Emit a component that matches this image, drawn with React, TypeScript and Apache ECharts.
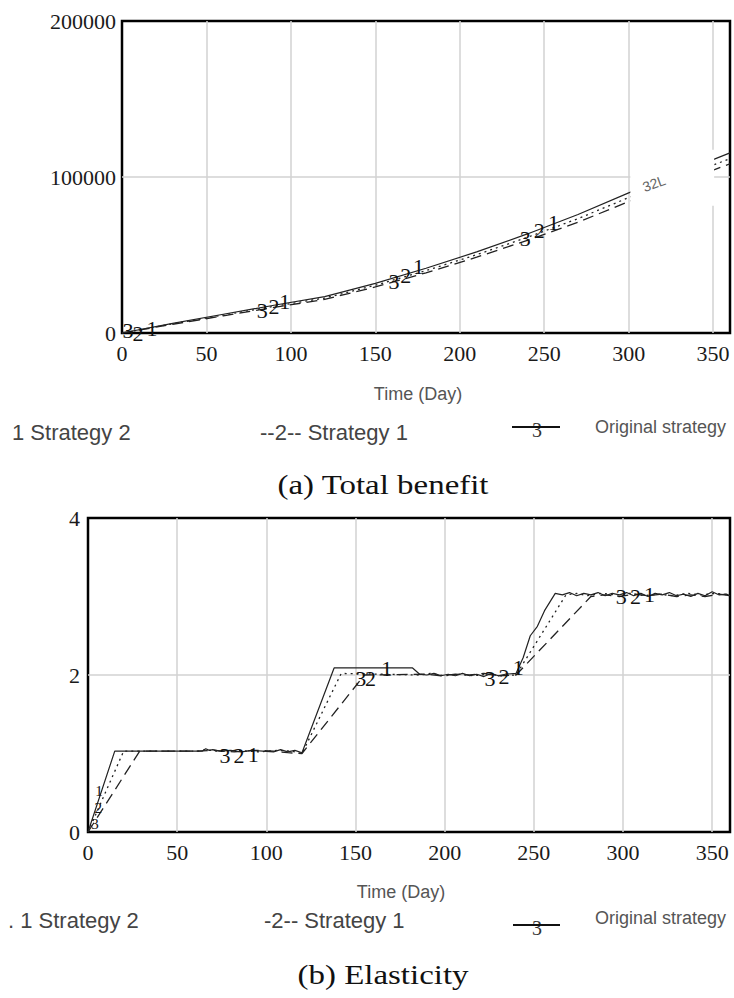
import React, { useEffect, useRef } from "react";
import * as echarts from "echarts";

// ---------- Data: (a) Total benefit ----------
const benefitDays = [0, 30, 60, 90, 120, 150, 180, 210, 240, 270, 300, 330, 360];
const benefitOriginal = [0, 6200, 12000, 17800, 23300, 31800, 41500, 52000, 63500, 76000, 89800, 102500, 115500];
const benefitStrategy2 = [0, 5900, 11500, 17100, 22400, 30600, 40000, 50200, 61300, 73300, 86800, 99200, 111800];
const benefitStrategy1 = [0, 5600, 11000, 16400, 21500, 29500, 38600, 48600, 59400, 71000, 84200, 96200, 108500];

// line number tags placed along the curves (day, value, tag)
const benefitTags: [number, number, string][] = [
  [3.6, 1900, "3"], [9.5, 0, "2"], [17.8, 3200, "1"],
  [83, 14700, "3"], [90, 17300, "2"], [96.4, 20000, "1"],
  [161, 32800, "3"], [168, 37100, "2"], [175.5, 42400, "1"],
  [238.8, 60600, "3"], [247, 65900, "2"], [255.5, 70600, "1"],
];
const benefitFadedTag: [number, number, string][] = [[315, 95800, "32L"]];
const benefitGap = { fromDay: 301, toDay: 350.6, fromValue: 81500, toValue: 117500 };

// ---------- Data: (b) Elasticity ----------
const elasticityOriginal: [number, number][] = [
  [0, 0], [15, 1.03], [64, 1.03], [66, 1.06], [68, 1.04], [70, 1.05], [74, 1.03], [80, 1.04], [86, 1.02],
  [92, 1.04], [98, 1.03], [104, 1.02], [108, 1.05], [112, 1.02], [116, 1.04], [120, 1.01],
  [138, 2.09], [182, 2.09], [186, 2.01], [190, 2.0], [194, 2.02], [198, 1.99], [202, 2.01], [206, 1.99],
  [210, 2.02], [214, 1.99], [218, 2.01], [222, 1.98], [226, 2.02], [230, 1.99], [234, 2.01], [240, 2.02],
  [244, 2.22], [248, 2.5], [252, 2.62], [256, 2.82], [262, 3.04], [266, 3.02], [270, 3.05], [274, 3.01],
  [278, 3.04], [282, 3.02], [286, 3.05], [290, 3.01], [294, 3.04], [298, 3.02], [302, 3.05], [306, 3.01],
  [310, 3.04], [314, 3.0], [318, 3.04], [322, 3.02], [326, 3.05], [330, 3.01], [334, 3.03], [338, 3.0],
  [342, 3.04], [346, 3.01], [350, 3.06], [354, 3.02], [358, 3.03], [360, 3.01],
];
const elasticityStrategy2: [number, number][] = [
  [0, 0], [20, 1.03], [62, 1.03], [66, 1.05], [72, 1.03], [84, 1.04], [96, 1.02], [106, 1.04], [114, 1.03],
  [120, 1.0], [142, 2.02], [186, 2.0], [192, 2.02], [200, 1.99], [208, 2.01], [216, 1.99], [224, 2.01],
  [232, 1.99], [240, 2.0], [268, 3.02], [274, 3.04], [280, 3.01], [288, 3.04], [296, 3.02], [304, 3.04],
  [312, 3.01], [320, 3.03], [328, 3.01], [336, 3.04], [344, 3.02], [352, 3.04], [360, 3.02],
];
const elasticityStrategy1: [number, number][] = [
  [0, 0], [29, 1.03], [60, 1.03], [70, 1.04], [82, 1.02], [94, 1.04], [104, 1.03], [112, 1.01], [120, 1.0],
  [155, 2.0], [190, 2.01], [198, 1.99], [206, 2.01], [214, 2.0], [222, 2.02], [230, 1.99], [240, 2.0],
  [282, 3.0], [290, 3.02], [298, 3.0], [306, 3.03], [314, 3.01], [322, 3.03], [330, 3.0], [338, 3.02],
  [346, 3.0], [354, 3.03], [360, 3.01],
];
const elasticityStartTags: [number, number, string][] = [
  [3.9, 0.1, "3"], [5.8, 0.3, "2"], [6.2, 0.52, "1"],
];
const elasticityTags: [number, number, string][] = [
  [76.8, 0.98, "3"], [84.7, 0.98, "2"], [92.6, 0.99, "1"],
  [153, 1.96, "3"], [158.4, 1.96, "2"], [167.5, 2.08, "1"],
  [225.4, 1.96, "3"], [233.3, 1.98, "2"], [241.2, 2.1, "1"],
  [299, 3.0, "3"], [307, 3.0, "2"], [314.8, 3.02, "1"],
];

const dayTicks = { min: 0, max: 360, interval: 50 };
const seriesNames = ["Strategy 2", "Strategy 1", "Original strategy"];

const SERIF = "Liberation Serif";
const SANS = "Liberation Sans";

function App() {
  const ref = useRef<HTMLDivElement>(null);

  useEffect(() => {
    if (!ref.current) return;
    const chart = echarts.init(ref.current, null, { renderer: "svg" });

    const splitLine = { show: true, showMinLine: false, showMaxLine: false, lineStyle: { color: "#d2d2d2", width: 1.5 } };

    const xAxisBase = (gridIndex: number) => ({
      gridIndex,
      type: "value",
      min: dayTicks.min,
      max: dayTicks.max,
      interval: dayTicks.interval,
      axisLine: { show: false },
      axisTick: { show: false },
      axisLabel: { fontFamily: SERIF, fontSize: 22, color: "#1a1a1a", margin: 9, showMaxLabel: false },
      splitLine,
    });
    const yAxisBase = (gridIndex: number, max: number, interval: number, margin: number) => ({
      gridIndex,
      type: "value",
      min: 0,
      max,
      interval,
      axisLine: { show: false },
      axisTick: { show: false },
      axisLabel: {
        fontFamily: SERIF,
        fontSize: 22,
        color: "#1a1a1a",
        margin,
        formatter: (v: number) => String(v),
      },
      splitLine,
    });

    const lineStyles = [
      { type: [2, 4], width: 1.3, color: "#222" }, // Strategy 2: dotted
      { type: [11, 6], width: 1.3, color: "#222" }, // Strategy 1: dashed
      { type: "solid", width: 1.2, color: "#222" }, // Original strategy: solid
    ];

    const benefitSets = [benefitStrategy2, benefitStrategy1, benefitOriginal];
    const elasticitySets = [elasticityStrategy2, elasticityStrategy1, elasticityOriginal];

    const series: any[] = [];
    benefitSets.forEach((vals, i) => {
      series.push({
        name: seriesNames[i],
        type: "line",
        xAxisIndex: 0,
        yAxisIndex: 0,
        showSymbol: false,
        symbol: "none",
        z: 3,
        lineStyle: lineStyles[i],
        data: benefitDays.map((d, k) => [d, vals[k]]),
      });
    });
    elasticitySets.forEach((vals, i) => {
      series.push({
        name: seriesNames[i] + " ",
        type: "line",
        xAxisIndex: 1,
        yAxisIndex: 1,
        showSymbol: false,
        symbol: "none",
        z: 3,
        lineStyle: lineStyles[i],
        data: vals,
      });
    });

    // white gap in chart (a)
    series.push({
      type: "line",
      xAxisIndex: 0,
      yAxisIndex: 0,
      data: [],
      z: 8,
      markArea: {
        silent: true,
        z: 8,
        itemStyle: { color: "#ffffff", borderWidth: 0 },
        label: { show: false },
        data: [
          [
            { coord: [benefitGap.fromDay, benefitGap.fromValue] },
            { coord: [benefitGap.toDay, benefitGap.toValue] },
          ],
        ],
      },
    });

    const tagSeries = (
      xi: number,
      tags: [number, number, string][],
      size: number,
      family = SERIF,
      color = "#111",
      rotation = 0
    ) => ({
      type: "custom",
      xAxisIndex: xi,
      yAxisIndex: xi,
      z: 10,
      silent: true,
      clip: false,
      data: tags.map((t) => [t[0], t[1]]),
      renderItem: (params: any, api: any) => {
        const p = api.coord([api.value(0), api.value(1)]);
        return {
          type: "text",
          x: p[0],
          y: p[1],
          rotation,
          style: {
            text: tags[params.dataIndex][2],
            fontFamily: family,
            fontSize: size,
            fill: color,
            align: "center",
            verticalAlign: "middle",
          },
        };
      },
    });
    series.push(tagSeries(0, benefitTags, 22));
    series.push(tagSeries(0, benefitFadedTag, 14, SANS, "#666", (20 * Math.PI) / 180));
    series.push(tagSeries(1, elasticityTags, 22));
    series.push(tagSeries(1, elasticityStartTags, 15));

    const txt = (text: string, x: number, y: number, family: string, size: number, fill: string, align = "left", scaleX = 1) => ({
      type: "text",
      x,
      y,
      scaleX,
      z: 20,
      style: {
        text,
        fontFamily: family,
        fontSize: size,
        fill,
        textAlign: align,
        textVerticalAlign: "middle",
        align,
        verticalAlign: "middle",
      },
    });
    const legendLine = (x1: number, x2: number, y: number) => ({
      type: "line",
      z: 20,
      shape: { x1, y1: y, x2, y2: y },
      style: { stroke: "#111", lineWidth: 2 },
    });

    const graphic = [
      // (a)
      txt("Time (Day)", 418, 394, SANS, 18, "#555", "center"),
      txt("1 Strategy 2", 12, 432, SANS, 22, "#444"),
      txt("--2-- Strategy 1", 260, 432, SANS, 22, "#444"),
      txt("3", 537, 430, SERIF, 20, "#333", "center"),
      legendLine(512, 560, 427),
      txt("Original strategy", 595, 427, SANS, 18, "#555"),
      txt("(a) Total benefit", 383, 485, SERIF, 27, "#111", "center", 1.22),
      // (b)
      txt("Time (Day)", 401, 892, SANS, 18, "#555", "center"),
      txt(". 1 Strategy 2", 8, 920, SANS, 22, "#444"),
      txt("-2-- Strategy 1", 264, 920, SANS, 22, "#444"),
      txt("3", 537, 928, SERIF, 20, "#333", "center"),
      legendLine(513, 560, 925),
      txt("Original strategy", 595, 918, SANS, 18, "#555"),
      txt("(b) Elasticity", 383, 975, SERIF, 27, "#111", "center", 1.22),
    ];

    chart.setOption({
      animation: false,
      backgroundColor: "#ffffff",
      grid: [
        { left: 122, top: 21, width: 608, height: 312, show: true, borderColor: "#000", borderWidth: 2.5, backgroundColor: "transparent" },
        { left: 88, top: 518, width: 642, height: 314, show: true, borderColor: "#000", borderWidth: 2.5, backgroundColor: "transparent" },
      ],
      xAxis: [xAxisBase(0), xAxisBase(1)],
      yAxis: [yAxisBase(0, 200000, 100000, 6), yAxisBase(1, 4, 2, 8)],
      series,
      graphic,
    });

    return () => chart.dispose();
  }, []);

  return (
    <div
      ref={ref}
      style={{ position: "absolute", left: 0, top: 0, width: 734, height: 998, background: "#fff" }}
    />
  );
}

export default App;
